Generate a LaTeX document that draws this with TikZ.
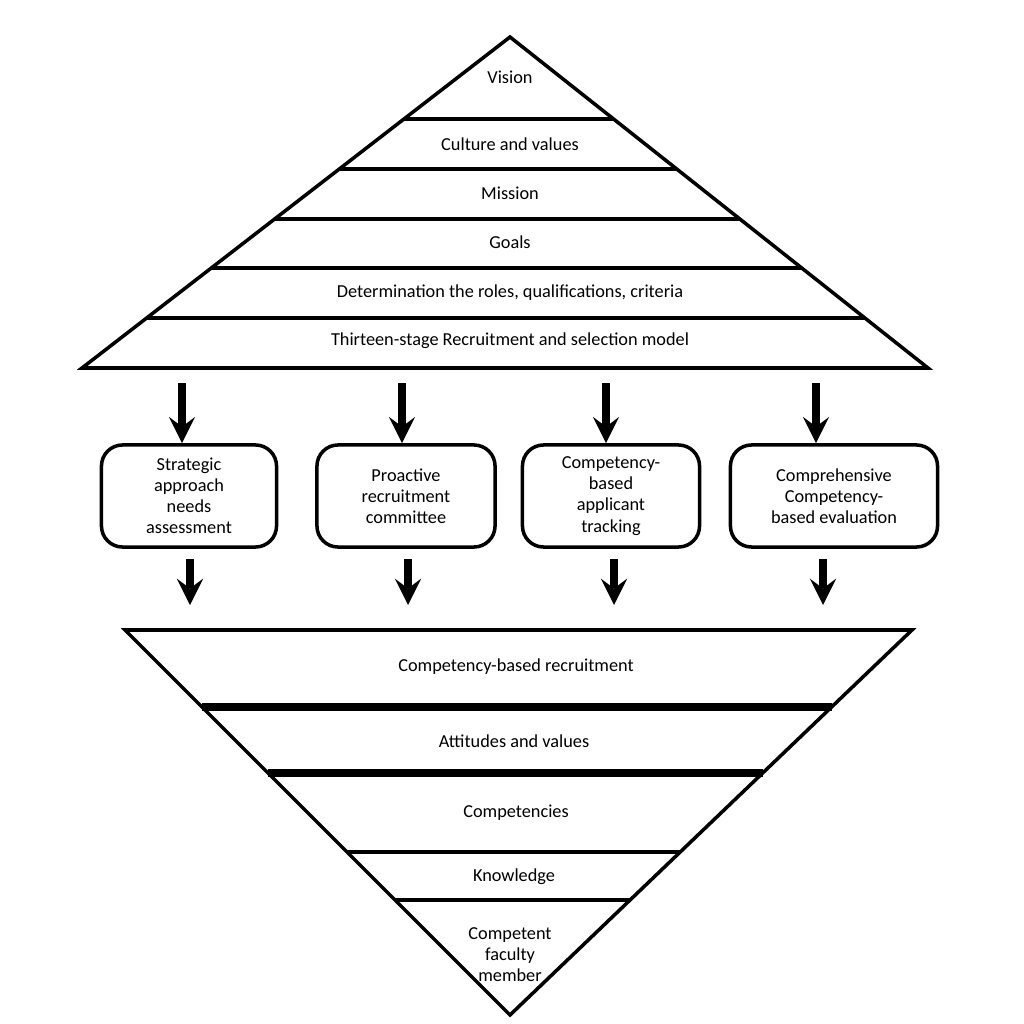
\documentclass[tikz,border=0pt]{standalone}
\usepackage{fontspec}
\setmainfont{Carlito}
\usepackage{tikz}
\usetikzlibrary{positioning,calc}

\begin{document}
\begin{tikzpicture}[x=0.01cm,y=-0.01cm,font=\fontsize{5.2}{6}\selectfont]
	\useasboundingbox (0,0) rectangle (1024,1024);
	\tikzset{box/.style={draw, rectangle, rounded corners=6pt, line width=1pt, align=center, minimum height=1.02cm},
		arr/.style={->,>=stealth,line width=2.2pt}}
	% upper pyramid
	\coordinate (top) at (510,37);
	\coordinate (bl) at (82,368);
	\coordinate (br) at (928,368);
	\draw[line width=1pt] (top) -- (bl) -- (br) -- cycle;
	\foreach \y in {119,169,219,268,318}{
		\draw[line width=1pt] ($(top)!{(\y-37)/331}!(bl)$) -- ($(top)!{(\y-37)/331}!(br)$);
	}
	\node (vision) at (510,77) {Vision};
	\node (culture) at (510,144) {Culture and values};
	\node (mission) at (510,193) {Mission};
	\node (goals) at (510,242) {Goals};
	\node (roles) at (510,293) {Determination the roles, qualifications, criteria};
	\node (model) at (510,341) {Thirteen-stage Recruitment and selection model};
	% boxes
	\node[box, minimum width=1.75cm] (b1) at (189,496) {Strategic\\approach\\needs\\assessment};
	\node[box, minimum width=1.78cm] (b2) at (406,496) {Proactive\\recruitment\\committee};
	\node[box, minimum width=1.77cm] (b3) at (611,496) {Competency-\\based\\applicant\\tracking};
	\node[box, minimum width=2.07cm] (b4) at (834,496) {Comprehensive\\Competency-\\based evaluation};
	\coordinate (a1) at (182,383); \coordinate (a2) at (402,383);
	\coordinate (a3) at (606,383); \coordinate (a4) at (816,383);
	\coordinate (c1) at (190,605); \coordinate (c2) at (408,605);
	\coordinate (c3) at (614,605); \coordinate (c4) at (823,605);
	\draw[arr] (a1) -- (a1|-b1.north);
	\draw[arr] (a2) -- (a2|-b2.north);
	\draw[arr] (a3) -- (a3|-b3.north);
	\draw[arr] (a4) -- (a4|-b4.north);
	\draw[arr] ($(c1|-b1.south)+(0,10)$) -- (c1);
	\draw[arr] ($(c2|-b2.south)+(0,10)$) -- (c2);
	\draw[arr] ($(c3|-b3.south)+(0,10)$) -- (c3);
	\draw[arr] ($(c4|-b4.south)+(0,10)$) -- (c4);
	% lower pyramid
	\coordinate (tl) at (125,630);
	\coordinate (tr) at (912,630);
	\coordinate (bot) at (510,1015);
	\draw[line width=1pt] (tl) -- (tr) -- (bot) -- cycle;
	\foreach \y/\w in {707/2pt,773/2pt,852/1.2pt,900/1.2pt}{
		\draw[line width=\w] ($(tl)!{(\y-630)/385}!(bot)$) -- ($(tr)!{(\y-630)/385}!(bot)$);
	}
	\node (recruit) at (516,667) {Competency-based recruitment};
	\node (attitude) at (514,741) {Attitudes and values};
	\node (compet) at (516,813) {Competencies};
	\node (know) at (514,877) {Knowledge};
	\node[align=center] (member) at (510,955) {Competent\\faculty\\member};
\end{tikzpicture}
\end{document}
